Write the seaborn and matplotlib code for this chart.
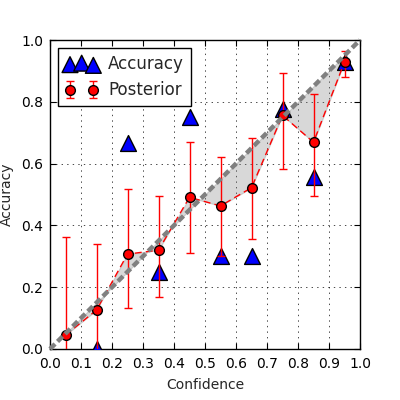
import matplotlib
matplotlib.use("Agg")
import matplotlib.pyplot as plt
import seaborn as sns
import pandas as pd
import numpy as np

sns.set_style("ticks")
plt.rcParams['font.family'] = ['DejaVu Sans']

# bin centres (confidence)
confidence = [0.05, 0.15, 0.25, 0.35, 0.45, 0.55, 0.65, 0.75, 0.85, 0.95]
# observed accuracy per bin (first bin empty)
accuracy = [np.nan, 0.0, 0.667, 0.25, 0.75, 0.30, 0.30, 0.778, 0.556, 0.93]
# posterior mean with lower / upper bounds
posterior = [0.045, 0.126, 0.307, 0.32, 0.491, 0.463, 0.522, 0.756, 0.669, 0.929]
post_low = [-0.27, -0.09, 0.134, 0.168, 0.31, 0.30, 0.355, 0.583, 0.496, 0.88]
post_high = [0.363, 0.34, 0.518, 0.494, 0.671, 0.622, 0.682, 0.894, 0.824, 0.965]

df = pd.DataFrame({'Confidence': confidence, 'Accuracy': accuracy,
                   'Posterior': posterior, 'Low': post_low, 'High': post_high})

fig = plt.figure(figsize=(4, 4), dpi=100)
ax = fig.add_axes([0.125, 0.1275, 0.775, 0.7725])

# shaded gap between calibration diagonal and posterior
ax.fill_between(df.Confidence, df.Confidence, df.Posterior,
                color='gray', alpha=0.3, linewidth=0.8, zorder=1)

sns.scatterplot(data=df, x='Confidence', y='Accuracy', marker='^', s=130,
                color='blue', edgecolor='black', linewidth=1, ax=ax,
                zorder=3, legend=False)
acc_handle = ax.collections[-1]

# dashed connector through the posterior means
sns.lineplot(data=df, x='Confidence', y='Posterior', color='red', lw=1,
             dashes=False, ax=ax, zorder=4, legend=False)
ax.lines[-1].set_dashes((5, 3))

yerr = [df.Posterior - df.Low, df.High - df.Posterior]
eb = ax.errorbar(df.Confidence, df.Posterior, yerr=yerr, fmt='o', ls='none',
                 color='red', ecolor='red', mfc='red', mec='black', ms=7,
                 elinewidth=1, capsize=3, capthick=1, zorder=4)

ax.plot([0, 1], [0, 1], color='gray', lw=3.2, dashes=(1.6, 0.8),
        zorder=5, clip_on=False)

ax.set_xlim(0, 1)
ax.set_ylim(0, 1)
ax.set_xticks(np.arange(0, 1.01, 0.1))
ax.set_yticks(np.arange(0, 1.01, 0.2))
ax.tick_params(direction='in', top=True, right=True, length=4, labelsize=10,
               colors='black', pad=6)
ax.tick_params(axis='y', pad=5)
ax.grid(True, color='black', linestyle=(0, (2, 6)), linewidth=0.5)
for s in ax.spines.values():
    s.set_visible(True)
    s.set_color('black')
    s.set_linewidth(1)

ax.set_xlabel('Confidence', fontsize=10, labelpad=5)
ax.set_ylabel('Accuracy', fontsize=10, labelpad=5)

leg = ax.legend([acc_handle, eb], ['Accuracy', 'Posterior'], loc='upper left',
                fontsize=12, scatterpoints=3, numpoints=2, fancybox=False,
                framealpha=1, edgecolor='black', borderpad=0.4,
                handletextpad=0.6)
leg.get_frame().set_linewidth(1)

fig.savefig('out.png', dpi=100, facecolor='white')
